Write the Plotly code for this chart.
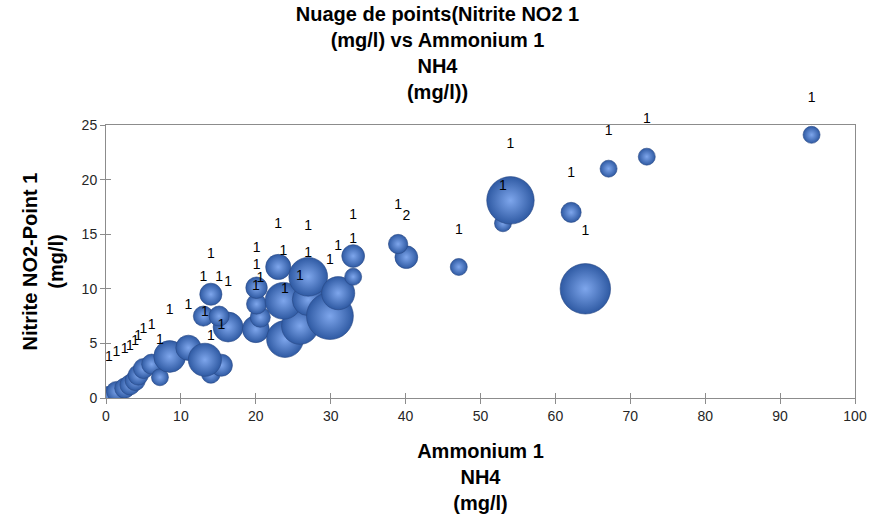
import plotly.graph_objects as go

# Ammonium (x), nitrite (y), bubble weight and the label shown above each bubble
ammonium = [0.4, 1.4, 2.5, 3.2, 3.9, 4.3, 5.0, 6.1, 7.2, 8.5,
            11.0, 14.0, 15.4, 13.2, 13.0, 16.3, 15.1, 14.0, 20.0, 20.6,
            20.1, 20.1, 23.9, 25.9, 23.7, 27.0, 23.0, 27.0, 29.9, 31.0,
            33.0, 33.0, 40.1, 39.0, 47.1, 53.0, 54.0, 62.1, 64.0, 67.1,
            72.2, 94.2]
nitrite = [0.3, 0.6, 0.9, 1.2, 1.6, 2.1, 2.7, 3.1, 1.9, 3.8,
           4.6, 2.2, 3.0, 3.5, 7.5, 6.5, 7.5, 9.5, 6.3, 7.4,
           8.6, 10.1, 5.4, 6.6, 8.9, 9.0, 12.0, 11.1, 7.5, 9.6,
           11.1, 13.0, 12.9, 14.1, 12.0, 16.0, 18.1, 17.0, 10.0, 21.0,
           22.1, 24.1]
taille = [1.0, 1.4, 1.4, 1.4, 1.4, 1.4, 1.4, 1.4, 1.0, 3.5,
          2.2, 1.2, 1.7, 3.8, 1.4, 3.1, 1.4, 1.7, 2.5, 1.4,
          1.4, 1.6, 4.7, 4.7, 4.7, 3.5, 2.2, 5.2, 7.6, 3.8,
          1.0, 1.8, 1.8, 1.3, 1.0, 1.0, 7.8, 1.4, 8.8, 1.0,
          1.0, 1.0]
etiquettes = ["1"] * 32 + ["2"] + ["1"] * 9

x_ticks = [0, 10, 20, 30, 40, 50, 60, 70, 80, 90, 100]
y_ticks = [0, 5, 10, 15, 20, 25]

SIZEREF = 2.0 / 17 ** 2   # weight 1 -> 17 px bubble
AXIS_GREY = "#8c8c8c"
TICK_FONT = dict(family="Liberation Sans, Arial, sans-serif", size=14, color="#262626")
LABEL_FONT = dict(family="Liberation Sans, Arial, sans-serif", size=14, color="#000000")
TITLE_FONT = dict(family="Liberation Sans, Arial, sans-serif", size=20, color="#000000", weight="bold")

fig = go.Figure()

# Shaded bubbles (clipped to the plot area); the radial gradient colour sits at the centre
fig.add_trace(go.Scatter(
    x=ammonium, y=nitrite, mode="markers",
    marker=dict(size=taille, sizemode="area", sizeref=SIZEREF,
                color="#2f5aa3",
                gradient=dict(type="radial", color="#7ea6ec"),
                line=dict(width=0.6, color="#284884"),
                opacity=1),
    cliponaxis=True, hoverinfo="skip", showlegend=False,
))

# Data labels above each bubble, allowed to run past the plot frame
fig.add_trace(go.Scatter(
    x=ammonium, y=nitrite, mode="markers+text",
    text=[e + "<br>\u00a0" for e in etiquettes],
    textposition="top center",
    textfont=LABEL_FONT,
    marker=dict(size=taille, sizemode="area", sizeref=SIZEREF, opacity=0),
    cliponaxis=False, hoverinfo="skip", showlegend=False,
))

# Empty trace carrying the inner half of the cross tick marks
fig.add_trace(go.Scatter(x=[], y=[], xaxis="x2", yaxis="y2",
                         hoverinfo="skip", showlegend=False))

fig.update_layout(
    width=875, height=515, autosize=False,
    margin=dict(l=106, r=20, t=125, b=117),
    paper_bgcolor="white", plot_bgcolor="white",
    title=dict(text="Nuage de points(Nitrite NO2 1<br>(mg/l) vs Ammonium 1<br>NH4<br>(mg/l))",
               x=0.5, xref="container", xanchor="center",
               y=0.959, yref="container", yanchor="top",
               font=TITLE_FONT),
    xaxis=dict(range=[0, 100], tickvals=x_ticks, ticktext=[str(v) for v in x_ticks],
               showgrid=False, zeroline=False, automargin=False,
               showline=True, linecolor=AXIS_GREY, linewidth=1, mirror=True,
               ticks="outside", ticklen=5, tickcolor=AXIS_GREY, tickwidth=1,
               tickfont=TICK_FONT,
               title=dict(text="Ammonium 1<br>NH4<br>(mg/l)", font=TITLE_FONT, standoff=21)),
    yaxis=dict(range=[0, 25], tickvals=y_ticks, ticktext=[str(v) for v in y_ticks],
               showgrid=False, zeroline=False, automargin=False,
               showline=True, linecolor=AXIS_GREY, linewidth=1, mirror=True,
               ticks="outside", ticklen=5, tickcolor=AXIS_GREY, tickwidth=1,
               tickfont=TICK_FONT,
               title=dict(text="Nitrite NO2-Point 1<br>(mg/l)", font=TITLE_FONT, standoff=12)),
    xaxis2=dict(range=[0, 100], overlaying="x", side="bottom", tickvals=x_ticks,
                showticklabels=False, showgrid=False, zeroline=False, showline=False,
                automargin=False,
                ticks="inside", ticklen=5, tickcolor=AXIS_GREY, tickwidth=1),
    yaxis2=dict(range=[0, 25], overlaying="y", side="left", tickvals=y_ticks,
                showticklabels=False, showgrid=False, zeroline=False, showline=False,
                automargin=False,
                ticks="inside", ticklen=5, tickcolor=AXIS_GREY, tickwidth=1),
)

fig.write_html("out.html")
